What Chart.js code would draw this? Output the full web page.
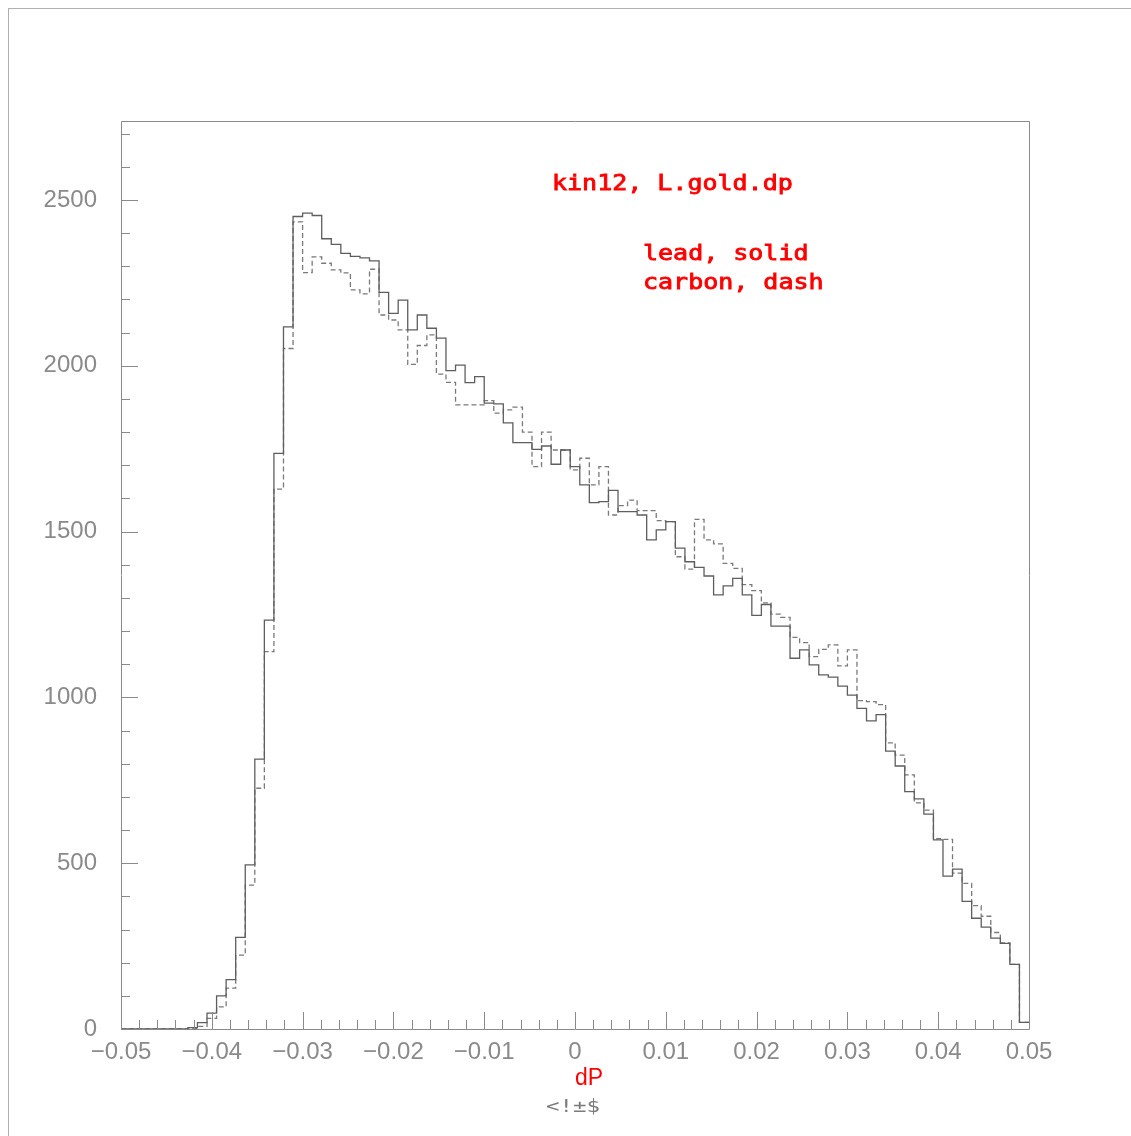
<!DOCTYPE html>
<html>
<head>
<meta charset="utf-8">
<title>kin12 L.gold.dp</title>
<script src="https://cdn.jsdelivr.net/npm/chart.js@4.4.1/dist/chart.umd.min.js"></script>
<style>
  html, body { margin: 0; padding: 0; background: #fff; }
  #wrap { position: relative; width: 1131px; height: 1136px; overflow: hidden; }
  #edge { position: absolute; left: 8px; top: 8px; width: 1200px; height: 1200px;
          border-left: 1px solid #b0b0b0; border-top: 1px solid #b0b0b0; }
  #chart { position: absolute; left: 0; top: 0; }
</style>
</head>
<body>
<div id="wrap"><div id="edge"></div><canvas id="chart" width="1131" height="1136"></canvas></div>
<script>
// histogram range on dP, bins spread evenly over it
const X_MIN = -0.05
const X_MAX = 0.05
const Y_MAX = 2738

// counts per bin, lead target (solid)
const lead = [
  0, 0, 0, 0, 0, 0, 0, 4, 19, 48,
  100, 149, 276, 495, 814, 1233, 1736, 2117, 2450, 2460,
  2453, 2383, 2366, 2339, 2330, 2325, 2316, 2221, 2158, 2198,
  2108, 2153, 2113, 2083, 1985, 2002, 1949, 1967, 1887, 1885,
  1828, 1768, 1768, 1748, 1758, 1703, 1746, 1696, 1641, 1587,
  1590, 1624, 1560, 1560, 1550, 1475, 1505, 1530, 1450, 1409,
  1392, 1366, 1309, 1336, 1359, 1309, 1247, 1280, 1215, 1215,
  1118, 1143, 1098, 1068, 1061, 1034, 1007, 967, 929, 948,
  838, 793, 716, 694, 648, 570, 461, 482, 385, 334,
  307, 274, 258, 195, 20
]

// counts per bin, carbon target (dashed)
const carbon = [
  0, 0, 0, 0, 0, 0, 0, 2, 8, 32,
  67, 123, 223, 434, 726, 1138, 1628, 2052, 2434, 2281,
  2328, 2309, 2289, 2280, 2229, 2217, 2291, 2153, 2138, 2108,
  2004, 2061, 2093, 1975, 1950, 1882, 1882, 1882, 1895, 1857,
  1867, 1875, 1800, 1696, 1800, 1746, 1746, 1686, 1721, 1641,
  1696, 1550, 1578, 1595, 1563, 1563, 1533, 1530, 1424, 1387,
  1537, 1475, 1463, 1404, 1389, 1340, 1322, 1285, 1251, 1241,
  1181, 1165, 1123, 1145, 1158, 1095, 1143, 990, 987, 978,
  863, 826, 766, 682, 660, 574, 572, 470, 439, 372,
  340, 291, 260, 195, 20
]

const xTickStep = 0.002
const yTickStep = 100
const yLabelStep = 500

const AXIS_GREY = '#8a8a8a'
const RED = '#ff0000'

// left bin edges with the bin count, closed by the upper edge
function histPoints(counts){
    const w = (X_MAX - X_MIN) / counts.length
    const pts = counts.map((c, i) => ({ x: X_MIN + i * w, y: c }))
    pts.push({ x: X_MAX, y: counts[counts.length - 1] })
    return pts
}

function xLabel(v){
    const m = Math.round(v * 1000)
    if (m % 10 !== 0) return ''
    if (m === 0) return '0'
    return (v < 0 ? '\u2212' : '') + Math.abs(v).toFixed(2)
}

// frame, inward tick marks and the free text
const paw = {
    id: 'paw',
    afterDatasetsDraw(chart){
        const { ctx, chartArea: a, scales } = chart
        const xs = scales.x, ys = scales.y
        ctx.save()
        ctx.strokeStyle = AXIS_GREY
        ctx.lineWidth = 1
        ctx.beginPath()
        ctx.rect(Math.round(a.left) + 0.5, Math.round(a.top) + 0.5,
                 Math.round(a.right - a.left), Math.round(a.bottom - a.top))
        ctx.stroke()

        ctx.beginPath()
        xs.ticks.forEach(t => {
            const px = Math.round(xs.getPixelForValue(t.value)) + 0.5
            const len = xLabel(t.value) ? 17 : 9
            ctx.moveTo(px, a.bottom)
            ctx.lineTo(px, a.bottom - len)
        })
        ys.ticks.forEach(t => {
            const py = Math.round(ys.getPixelForValue(t.value)) + 0.5
            const len = t.value % yLabelStep === 0 ? 17 : 9
            ctx.moveTo(a.left, py)
            ctx.lineTo(a.left + len, py)
        })
        ctx.stroke()

        // monospace captions, stretched wide like the plotter font
        ctx.textAlign = 'left'
        ctx.textBaseline = 'alphabetic'
        const mono = (txt, x, y, sx, weight) => {
            ctx.save()
            ctx.translate(x, y)
            ctx.scale(sx, 1)
            ctx.fillText(txt, 0, 0)
            if (weight) {
                ctx.lineWidth = weight
                ctx.strokeText(txt, 0, 0)
            }
            ctx.restore()
        }
        ctx.fillStyle = RED
        ctx.strokeStyle = RED
        ctx.font = '21px "DejaVu Sans Mono"'
        mono('kin12, L.gold.dp', 552, 190, 1.19, 0.8)
        mono('lead, solid', 643, 260, 1.19, 0.8)
        mono('carbon, dash', 643, 289, 1.19, 0.8)

        ctx.fillStyle = '#7c7c7c'
        ctx.font = '18px "DejaVu Sans Mono"'
        mono('<!\u00b1$', 546, 1112, 1.245, 0)

        ctx.fillStyle = RED
        ctx.textAlign = 'center'
        ctx.font = '23px "Liberation Sans"'
        ctx.fillText('dP', 589, 1085)
        ctx.restore()
    }
}

new Chart(document.getElementById('chart'), {
    type: 'line',
    data: {
        datasets: [
            {
                label: 'lead',
                data: histPoints(lead),
                stepped: 'before',
                borderColor: '#5e5e5e',
                borderWidth: 1.3,
                pointRadius: 0,
                fill: false,
            },
            {
                label: 'carbon',
                data: histPoints(carbon),
                stepped: 'before',
                borderColor: '#7a7a7a',
                borderWidth: 1.3,
                borderDash: [5, 3],
                pointRadius: 0,
                fill: false,
            },
        ]
    },
    options: {
        responsive: false,
        animation: false,
        devicePixelRatio: 1,
        layout: { padding: { top: 121, right: 102, left: 0, bottom: 0 } },
        plugins: {
            legend: { display: false },
            tooltip: { enabled: false },
        },
        scales: {
            x: {
                type: 'linear',
                min: X_MIN,
                max: X_MAX,
                afterFit: s => { s.height = 107 },
                grid: { display: false, drawTicks: false },
                border: { display: false },
                ticks: {
                    stepSize: xTickStep,
                    includeBounds: false,
                    autoSkip: false,
                    maxRotation: 0,
                    padding: 9,
                    color: AXIS_GREY,
                    font: { family: 'Liberation Sans', size: 24 },
                    callback: v => xLabel(v),
                },
            },
            y: {
                min: 0,
                max: Y_MAX,
                afterFit: s => { s.width = 121 },
                grid: { display: false, drawTicks: false },
                border: { display: false },
                ticks: {
                    stepSize: yTickStep,
                    includeBounds: false,
                    autoSkip: false,
                    padding: 24,
                    color: AXIS_GREY,
                    font: { family: 'Liberation Sans', size: 24 },
                    callback: v => (v % yLabelStep === 0 ? String(v) : ''),
                },
            },
        },
    },
    plugins: [paw],
})
</script>
</body>
</html>
